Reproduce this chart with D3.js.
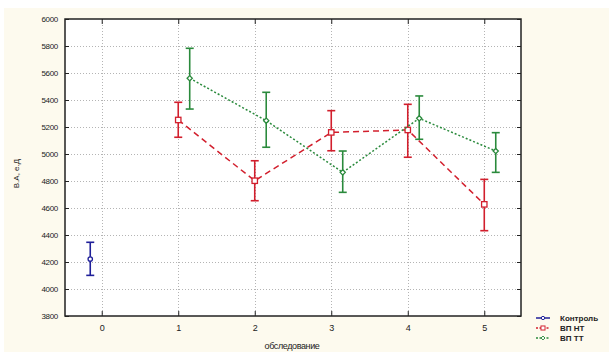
<!DOCTYPE html>
<html>
<head>
<meta charset="utf-8">
<script src="https://cdn.jsdelivr.net/npm/d3@7"></script>
<style>
  body { margin: 0; background: #fff; }
  svg { display: block; font-family: 'Liberation Sans', Arial, sans-serif; }
</style>
</head>
<body>
<div id="chart"></div>
<script>
// visits (обследование)
const ctlVisits = [0];
const ctlMean = [4222];
const ctlLo = [4101];
const ctlHi = [4346];

const visits = [1, 2, 3, 4, 5];
const ntMean = [5252, 4802, 5160, 5178, 4627];
const ntLo = [5124, 4654, 5024, 4976, 4432];
const ntHi = [5383, 4950, 5321, 5368, 4812];

const ttMean = [5561, 5247, 4864, 5264, 5022];
const ttLo = [5333, 5050, 4716, 5109, 4864];
const ttHi = [5783, 5457, 5022, 5430, 5158];

const xTicks = [0, 1, 2, 3, 4, 5];
const yTicks = [3800, 4000, 4200, 4400, 4600, 4800, 5000, 5200, 5400, 5600, 5800, 6000];
const legendNames = ['Контроль', 'ВП НТ', 'ВП ТТ'];

const width = 609, height = 352;
const plot = { left: 65, right: 521, top: 19, bottom: 316 };

const svg = d3.select('#chart').append('svg')
  .attr('width', width)
  .attr('height', height);

// cream background
svg.append('rect')
  .attr('x', 4).attr('y', 8)
  .attr('width', width - 4).attr('height', height - 8)
  .attr('fill', '#fdfaee');

svg.append('rect')
  .attr('x', plot.left).attr('y', plot.top)
  .attr('width', plot.right - plot.left).attr('height', plot.bottom - plot.top)
  .attr('fill', '#fff');

const xScale = d3.scaleLinear()
  .domain([-0.48, 5.48])
  .range([plot.left, plot.right]);

const yScale = d3.scaleLinear()
  .domain([3800, 6000])
  .range([plot.bottom, plot.top]);

// grid
const grid = svg.append('g')
  .attr('stroke', '#b4b4b4')
  .attr('stroke-width', 1)
  .attr('stroke-dasharray', '1,2');

grid.selectAll('.hg')
  .data(yTicks.slice(1, -1))
  .join('line')
  .attr('x1', plot.left).attr('x2', plot.right)
  .attr('y1', d => Math.round(yScale(d)) + 0.5)
  .attr('y2', d => Math.round(yScale(d)) + 0.5);

grid.selectAll('.vg')
  .data(xTicks)
  .join('line')
  .attr('y1', plot.top).attr('y2', plot.bottom)
  .attr('x1', d => Math.round(xScale(d)) + 0.5)
  .attr('x2', d => Math.round(xScale(d)) + 0.5);

// axes, ticks inward
const yAxis = d3.axisLeft(yScale).tickValues(yTicks).tickSize(-4).tickPadding(7).tickFormat(d3.format('d'));
const yAxisR = d3.axisRight(yScale).tickValues(yTicks).tickSize(-4).tickFormat('');
const xAxis = d3.axisBottom(xScale).tickValues(xTicks).tickSize(-5).tickPadding(9).tickFormat(d3.format('d'));
const xAxisT = d3.axisTop(xScale).tickValues(xTicks).tickSize(-5).tickFormat('');

const gy = svg.append('g').attr('transform', `translate(${plot.left},0)`).call(yAxis);
const gyr = svg.append('g').attr('transform', `translate(${plot.right},0)`).call(yAxisR);
const gx = svg.append('g').attr('transform', `translate(0,${plot.bottom})`).call(xAxis);
const gxt = svg.append('g').attr('transform', `translate(0,${plot.top})`).call(xAxisT);

[gy, gyr, gx, gxt].forEach(g => {
  g.select('.domain').remove();
  g.selectAll('line').attr('stroke', '#222');
  g.selectAll('text').attr('font-family', "'Liberation Sans', Arial, sans-serif")
    .attr('fill', '#222');
});
gy.selectAll('text').attr('font-size', 8).attr('letter-spacing', '-0.3px');
gx.selectAll('text').attr('font-size', 9);

svg.append('rect')
  .attr('x', plot.left).attr('y', plot.top)
  .attr('width', plot.right - plot.left).attr('height', plot.bottom - plot.top)
  .attr('fill', 'none')
  .attr('stroke', '#222')
  .attr('stroke-width', 1.5);

// axis titles
svg.append('text')
  .attr('transform', `translate(19,${(plot.top + plot.bottom) / 2 + 6}) rotate(-90)`)
  .attr('text-anchor', 'middle')
  .attr('font-size', 8)
  .attr('fill', '#222')
  .text('В.А, е.Д');

svg.append('text')
  .attr('x', 292).attr('y', 349)
  .attr('text-anchor', 'middle')
  .attr('font-size', 9)
  .attr('letter-spacing', '-0.4px')
  .attr('fill', '#222')
  .text('обследование');

// series
const series = [
  { name: legendNames[0], x: ctlVisits, mean: ctlMean, lo: ctlLo, hi: ctlHi, offset: -0.15, color: '#1f1f99', dash: null, marker: 'circle' },
  { name: legendNames[1], x: visits, mean: ntMean, lo: ntLo, hi: ntHi, offset: 0, color: '#d21f2d', dash: '6,4', marker: 'square' },
  { name: legendNames[2], x: visits, mean: ttMean, lo: ttLo, hi: ttHi, offset: 0.15, color: '#2a8a3c', dash: '2,2', marker: 'diamond' }
];

const line = d3.line()
  .x(d => xScale(d.x))
  .y(d => yScale(d.y));

function drawMarker(g, type, color) {
  if (type === 'circle') {
    g.append('circle').attr('r', 2.2);
  } else if (type === 'square') {
    g.append('rect').attr('x', -2.7).attr('y', -2.7).attr('width', 5.4).attr('height', 5.4);
  } else {
    g.append('path').attr('d', 'M0,-2.6L2.6,0L0,2.6L-2.6,0Z');
  }
  g.selectAll('*').attr('fill', '#fff').attr('stroke', color).attr('stroke-width', 1.3);
}

series.forEach(s => {
  const pts = s.x.map((v, i) => ({ x: v + s.offset, y: s.mean[i], lo: s.lo[i], hi: s.hi[i] }));
  const g = svg.append('g');

  if (pts.length > 1) {
    g.append('path')
      .attr('d', line(pts))
      .attr('fill', 'none')
      .attr('stroke', s.color)
      .attr('stroke-width', 1.5)
      .attr('stroke-dasharray', s.dash);
  }

  const eb = g.selectAll('.eb')
    .data(pts)
    .join('g')
    .attr('stroke', s.color)
    .attr('stroke-width', 1.6);
  eb.append('line')
    .attr('x1', d => xScale(d.x)).attr('x2', d => xScale(d.x))
    .attr('y1', d => yScale(d.lo)).attr('y2', d => yScale(d.hi));
  eb.append('line')
    .attr('x1', d => xScale(d.x) - 4).attr('x2', d => xScale(d.x) + 4)
    .attr('y1', d => yScale(d.lo)).attr('y2', d => yScale(d.lo));
  eb.append('line')
    .attr('x1', d => xScale(d.x) - 4).attr('x2', d => xScale(d.x) + 4)
    .attr('y1', d => yScale(d.hi)).attr('y2', d => yScale(d.hi));

  g.selectAll('.mk')
    .data(pts)
    .join('g')
    .attr('transform', d => `translate(${xScale(d.x)},${yScale(d.y)})`)
    .each(function() { drawMarker(d3.select(this), s.marker, s.color); });
});

// legend
const legend = svg.append('g').attr('transform', 'translate(536,318)');
const item = legend.selectAll('g')
  .data(series)
  .join('g')
  .attr('transform', (d, i) => `translate(0,${i * 10})`);
item.append('line')
  .attr('x1', 0).attr('x2', 14)
  .attr('stroke', d => d.color)
  .attr('stroke-width', 1.5)
  .attr('stroke-dasharray', d => d.dash ? '2,1.5' : null);
item.append('g')
  .attr('transform', 'translate(7,0) scale(0.75)')
  .each(function(d) { drawMarker(d3.select(this), d.marker, d.color); });
item.append('text')
  .attr('x', 24).attr('y', 3)
  .attr('font-size', 8)
  .attr('font-weight', 'bold')
  .attr('fill', '#222')
  .text(d => d.name);
</script>
</body>
</html>
